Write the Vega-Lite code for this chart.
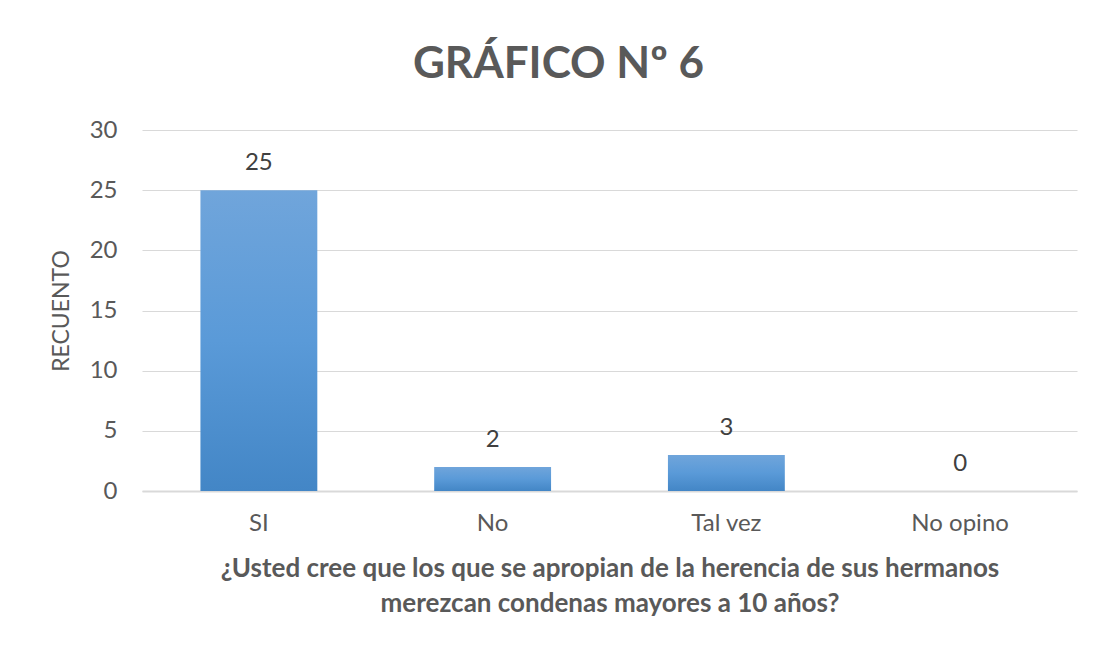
{
  "$schema": "https://vega.github.io/schema/vega-lite/v6.json",
  "width": 935,
  "height": 361,
  "autosize": {"type": "none"},
  "padding": {"left": 142, "top": 130, "right": 22, "bottom": 162},
  "background": "white",
  "title": {
    "text": "GRÁFICO Nº 6",
    "font": "Lato",
    "fontSize": 44,
    "fontWeight": "bold",
    "color": "#595959",
    "anchor": "middle",
    "dx": -51,
    "offset": 31
  },
  "data": {
    "values": [
      {"respuesta": "SI", "recuento": 25},
      {"respuesta": "No", "recuento": 2},
      {"respuesta": "Tal vez", "recuento": 3},
      {"respuesta": "No opino", "recuento": 0}
    ]
  },
  "encoding": {
    "x": {
      "field": "respuesta",
      "type": "nominal",
      "sort": null,
      "scale": {"paddingInner": 0.5, "paddingOuter": 0.25},
      "axis": {
        "title": ["¿Usted cree que los que se apropian de la herencia de sus hermanos", "merezcan condenas mayores a 10 años?"],
        "titleFont": "Lato",
        "titleFontSize": 26,
        "titleFontWeight": "bold",
        "titleColor": "#595959",
        "titleLineHeight": 35,
        "titlePadding": 20,
        "labelAngle": 0,
        "labelFont": "Lato",
        "labelFontSize": 24,
        "labelColor": "#595959",
        "labelPadding": 20,
        "ticks": false,
        "domainColor": "#d9d9d9",
        "domainWidth": 2
      }
    },
    "y": {
      "field": "recuento",
      "type": "quantitative",
      "scale": {"domain": [0, 30]},
      "axis": {
        "values": [0, 5, 10, 15, 20, 25, 30],
        "title": "RECUENTO",
        "titleFont": "Lato",
        "titleFontSize": 23,
        "titleFontWeight": "normal",
        "titleColor": "#595959",
        "titlePadding": 16,
        "labelFont": "Lato",
        "labelFontSize": 24,
        "labelColor": "#595959",
        "labelPadding": 25,
        "ticks": false,
        "domain": false,
        "gridColor": "#d9d9d9",
        "gridWidth": 1.2
      }
    }
  },
  "layer": [
    {
      "mark": {
        "type": "bar",
        "color": {
          "gradient": "linear",
          "x1": 0, "y1": 0, "x2": 0, "y2": 1,
          "stops": [
            {"offset": 0, "color": "#70a5db"},
            {"offset": 0.5, "color": "#5a9ad8"},
            {"offset": 1, "color": "#4386c6"}
          ]
        }
      }
    },
    {
      "mark": {
        "type": "text",
        "baseline": "bottom",
        "dy": -15,
        "font": "Lato",
        "fontSize": 24,
        "color": "#404040"
      },
      "encoding": {
        "text": {"field": "recuento", "type": "quantitative"}
      }
    }
  ],
  "config": {
    "view": {"stroke": null}
  }
}
